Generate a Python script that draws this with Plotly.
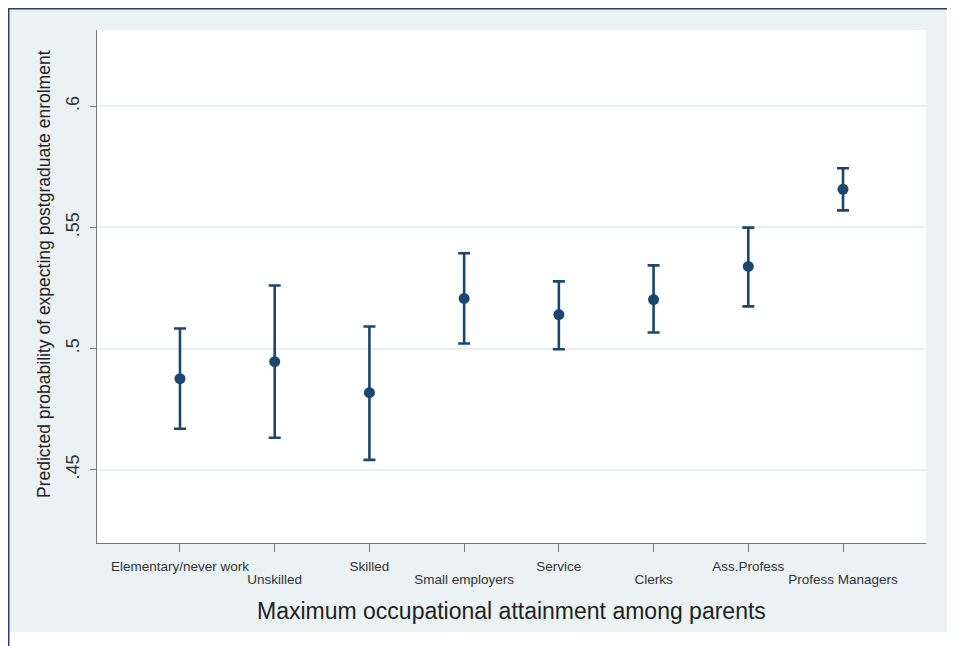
import plotly.graph_objects as go

categories = ["Elementary/never work", "Unskilled", "Skilled", "Small employers",
              "Service", "Clerks", "Ass.Profess", "Profess Managers"]
estimate = [0.4876, 0.4946, 0.4818, 0.5207, 0.5140, 0.5202, 0.5339, 0.5657]
upper_ci = [0.5083, 0.5260, 0.5091, 0.5393, 0.5277, 0.5343, 0.5499, 0.5744]
lower_ci = [0.4669, 0.4632, 0.4541, 0.5021, 0.4997, 0.5066, 0.5174, 0.5570]
y_ticks = [0.45, 0.5, 0.55, 0.6]
y_tick_labels = [".45", ".5", ".55", ".6"]

x_pos = list(range(len(categories)))
err_plus = [u - e for u, e in zip(upper_ci, estimate)]
err_minus = [e - l for e, l in zip(estimate, lower_ci)]
# Stata staggers the labels: first row on even positions, second row on odd ones
row1_text = [c if i % 2 == 0 else "" for i, c in enumerate(categories)]
row2_vals = [i for i in x_pos if i % 2 == 1]
row2_text = [categories[i] for i in row2_vals]

NAVY = "#1a476f"
PANEL = "#eaf2f3"
BORDER = "#2b3d72"
FONT = "Liberation Sans, Arial, sans-serif"
X_RANGE = [-0.876, 7.876]

fig = go.Figure()
fig.add_trace(go.Scatter(
    x=x_pos, y=estimate, mode="markers",
    marker=dict(color=NAVY, size=11),
    error_y=dict(type="data", symmetric=False, array=err_plus, arrayminus=err_minus,
                 color=NAVY, thickness=2.6, width=6),
    showlegend=False, hoverinfo="skip",
))
# invisible companion trace so the second label row axis is drawn
fig.add_trace(go.Scatter(
    x=x_pos, y=estimate, xaxis="x2", mode="markers",
    marker=dict(opacity=0), showlegend=False, hoverinfo="skip",
))

# The page body adds an 8px offset; figure coords = page coords - 8.
OFF = 8
W, H = 955 - OFF, 646 - OFF
pl, pr, pt, pb = 97 - OFF, 926 - OFF, 30 - OFF, 543 - OFF
def px(xf):
    return (xf - pl) / (pr - pl)
def py(yf):
    return (pb - yf) / (pb - pt)

shapes = [
    dict(type="rect", xref="paper", yref="paper", x0=px(947 - OFF), x1=px(W + 2), y0=py(H + 2), y1=py(-2),
         fillcolor="white", line=dict(width=0), layer="above"),
    dict(type="rect", xref="paper", yref="paper", x0=px(-2), x1=px(W + 2), y0=py(H + 2), y1=py(632 - OFF),
         fillcolor="white", line=dict(width=0), layer="above"),
    dict(type="line", xref="paper", yref="paper", x0=px(0.75), x1=px(0.75), y0=py(H + 2), y1=py(0),
         line=dict(color=BORDER, width=1.5), layer="above"),
    dict(type="line", xref="paper", yref="paper", x0=px(0), x1=px(W + 2), y0=py(0.75), y1=py(0.75),
         line=dict(color=BORDER, width=1.5), layer="above"),
]

annotations = [
    dict(text="Maximum occupational attainment among parents", xref="paper", yref="paper",
         x=0.5, y=py(611 - OFF), xanchor="center", yanchor="middle", showarrow=False,
         font=dict(family=FONT, size=23, color="#222")),
    dict(text="Predicted probability of expecting postgraduate enrolment", xref="paper", yref="paper",
         x=px(44 - OFF), y=py(274 - OFF), xanchor="center", yanchor="middle", showarrow=False, textangle=-90,
         font=dict(family=FONT, size=17.5, color="#222")),
]

fig.update_layout(
    width=W, height=H,
    margin=dict(l=pl, r=W - pr, t=pt, b=H - pb, pad=0),
    paper_bgcolor=PANEL, plot_bgcolor="white",
    shapes=shapes, annotations=annotations,
    font=dict(family=FONT, color="#333"),
    xaxis=dict(range=X_RANGE, tickmode="array", tickvals=x_pos, ticktext=row1_text,
               showgrid=False, zeroline=False, showline=True, linecolor="#777", linewidth=1.2,
               ticks="outside", ticklen=8, tickcolor="#777", tickwidth=1.2, tickangle=0,
               tickfont=dict(size=13.5, color="#333"), ticklabelstandoff=3),
    xaxis2=dict(range=X_RANGE, overlaying="x", side="bottom", anchor="y",
                tickmode="array", tickvals=row2_vals, ticktext=row2_text,
                showgrid=False, zeroline=False, showline=False,
                ticks="outside", ticklen=8, tickcolor="rgba(0,0,0,0)", tickangle=0,
                tickfont=dict(size=13.5, color="#333"), ticklabelstandoff=16),
    yaxis=dict(range=[0.4198, 0.6314], tickmode="array", tickvals=y_ticks, ticktext=y_tick_labels,
               showgrid=True, gridcolor="#e6eef1", gridwidth=1.6, zeroline=False,
               showline=True, linecolor="#777", linewidth=1.2,
               ticks="outside", ticklen=6, tickcolor="#777", tickwidth=1.2,
               tickangle=-90, tickfont=dict(size=18, color="#333"), ticklabelstandoff=4),
)

fig.write_html("out.html", config={"displayModeBar": False})
